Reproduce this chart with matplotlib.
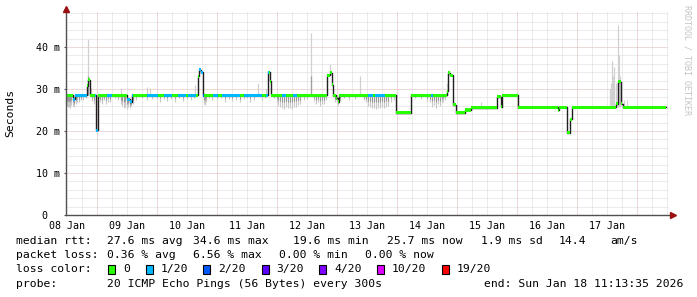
import bisect
import matplotlib
matplotlib.use('Agg')
import matplotlib.pyplot as plt
from matplotlib.patches import Rectangle

# time axis in days of January 2026
t_start = 8.49
t_end = 18.485

# median rtt (ms), step series: value holds from med_t[i] to med_t[i+1]
med_t = [8.49, 8.607, 8.64, 8.84, 8.857, 8.882, 8.982, 8.998, 9.015, 9.507,
         9.557, 9.59, 10.682, 10.707, 10.748, 10.773, 11.857, 11.89, 11.907, 12.84,
         12.882, 12.923, 12.945, 12.99, 13.015, 13.04, 13.99, 14.232, 14.832, 14.857,
         14.898, 14.94, 14.99, 15.14, 15.248, 15.673, 15.732, 15.757, 16.015, 16.682,
         16.707, 16.84, 16.898, 16.923, 17.665, 17.69, 17.74, 17.765]
med_v = [28.5, 27.6, 28.5, 30.8, 32.2, 28.5, 25.8, 20.2, 28.5, 27.6,
         27.0, 28.5, 33.0, 34.6, 34.0, 28.5, 34.0, 31.8, 28.5, 33.3,
         33.9, 31.0, 28.5, 27.8, 27.0, 28.5, 24.4, 28.5, 29.5, 33.9,
         33.3, 26.2, 24.4, 25.0, 25.5, 28.2, 25.8, 28.5, 25.6, 24.9,
         25.6, 19.6, 22.8, 25.6, 26.5, 31.7, 26.5, 25.6]

# packet loss periods (lost pings out of 20)
loss_start = [8.607, 8.973, 9.173, 9.507, 9.84, 10.123, 10.357, 10.523, 10.707, 10.773,
              10.94, 11.09, 11.457, 11.823, 12.09, 12.273, 13.523, 13.64, 14.573]
loss_end = [8.84, 9.023, 9.257, 9.607, 10.023, 10.257, 10.49, 10.657, 10.773, 10.79,
            11.023, 11.39, 11.757, 11.873, 12.157, 12.34, 13.607, 13.807, 14.607]
loss_n = [1, 1, 1, 1, 1, 1, 1, 1, 1, 2,
          1, 1, 1, 1, 1, 1, 1, 1, 1]

# smoke above the median (t, low, high)
spike_t = [8.857, 8.907, 9.407, 9.84, 9.89, 10.64, 11.69, 11.83, 12.573, 12.89,
           13.39, 14.84, 15.407, 17.557, 17.575, 17.59, 17.607, 17.623, 17.657, 17.69,
           17.705, 17.723, 17.79, 17.84]
spike_lo = [28.5, 28.5, 28.5, 28.5, 28.5, 28.5, 28.5, 28.5, 28.5, 33.5,
            28.5, 28.5, 25.5, 25.6, 25.6, 25.6, 25.6, 25.6, 25.6, 25.6,
            25.6, 25.6, 25.6, 25.6]
spike_hi = [41.8, 30.3, 30.2, 30.5, 30.2, 31.0, 31.4, 30.0, 43.3, 36.0,
            33.0, 31.4, 27.0, 30.0, 31.5, 36.7, 33.0, 35.3, 31.5, 45.2,
            38.0, 33.0, 27.5, 27.5]

# smoke below the median (t, lowest ping)
dip_t = [8.50, 8.52, 8.54, 8.557, 8.58, 8.607, 8.63, 8.657, 8.68, 8.707,
         8.74, 8.78, 8.82, 8.93, 8.95, 9.03, 9.06, 9.09, 9.12, 9.157,
         9.19, 9.223, 9.30, 9.36, 9.407, 9.43, 9.457, 9.48, 9.507, 9.53,
         9.557, 9.58, 9.607, 9.65, 9.76, 9.84, 9.93, 10.01, 10.057, 10.12,
         10.173, 10.24, 10.307, 10.37, 10.44, 10.5, 10.57, 10.62, 10.79, 10.807,
         10.83, 10.88, 10.923, 11.0, 11.07, 11.14, 11.2, 11.257, 11.32, 11.39,
         11.45, 11.5, 11.557, 11.62, 11.757, 11.8, 11.95, 12.0, 12.03, 12.057,
         12.09, 12.123, 12.15, 12.19, 12.22, 12.257, 12.29, 12.323, 12.36, 12.39,
         12.45, 12.5, 12.62, 12.657, 12.69, 12.723, 12.76, 12.79, 12.82, 12.97,
         13.023, 13.06, 13.12, 13.2, 13.3, 13.45, 13.49, 13.523, 13.55, 13.59,
         13.62, 13.657, 13.69, 13.723, 13.76, 13.79, 13.82, 13.857, 13.9, 13.95,
         14.3, 14.4, 14.5, 14.55, 14.59, 14.62, 14.657, 14.69, 14.723, 14.75,
         14.773, 14.8]
dip_lo = [26.0, 25.6, 25.8, 25.5, 26.3, 26.0, 25.8, 26.5, 27.0, 26.8,
          27.3, 27.5, 27.8, 27.2, 26.5, 27.0, 26.8, 26.5, 27.4, 26.5,
          27.0, 26.8, 27.8, 27.4, 26.5, 26.0, 25.5, 25.7, 25.3, 25.6,
          25.5, 26.0, 26.5, 27.5, 27.8, 27.5, 27.6, 27.8, 27.0, 27.6,
          27.2, 27.7, 27.0, 27.8, 27.2, 27.6, 27.5, 27.8, 26.5, 26.3,
          27.0, 27.8, 27.5, 27.6, 27.9, 27.0, 27.6, 27.2, 27.5, 26.8,
          27.6, 27.8, 27.0, 27.5, 27.5, 27.8, 27.8, 27.0, 26.2, 25.8,
          25.5, 25.3, 25.6, 25.5, 25.4, 25.2, 25.6, 25.8, 26.2, 26.5,
          27.5, 27.7, 27.2, 26.5, 26.8, 26.0, 26.5, 26.5, 27.5, 26.8,
          26.2, 27.4, 27.8, 27.5, 27.7, 27.4, 26.8, 26.0, 25.6, 25.5,
          25.4, 25.3, 25.5, 25.5, 25.6, 25.4, 25.8, 26.0, 27.0, 27.5,
          27.8, 27.6, 27.2, 26.8, 25.8, 26.2, 25.5, 26.5, 26.0, 26.8,
          27.0, 27.5]

loss_labels = ['0', '1/20', '2/20', '3/20', '4/20', '10/20', '19/20']
loss_colors = {0: '#26ff00', 1: '#00b8ff', 2: '#0059ff', 3: '#5e00ff',
               4: '#7e00ff', 10: '#dd00ff', 19: '#ff0000'}
y_ticks = [0, 10, 20, 30, 40]
y_ticklabels = ['0  ', '10 m', '20 m', '30 m', '40 m']
day_labels = ['08 Jan', '09 Jan', '10 Jan', '11 Jan', '12 Jan',
              '13 Jan', '14 Jan', '15 Jan', '16 Jan', '17 Jan']

mono = 'DejaVu Sans Mono'
W, H = 697, 297
fig = plt.figure(figsize=(W / 100, H / 100), dpi=100)
fig.patch.set_facecolor('white')
ax = fig.add_axes([66 / W, 82 / H, 602 / W, 204 / H])
ax.set_xlim(t_start, t_start + 602 / 60)
ax.set_ylim(0, 204 / 4.2)
for s in ax.spines.values():
    s.set_visible(False)

# grid
for k in range(1, 25):
    y = 2 * k
    c = '#dfb4b4' if y % 10 == 0 else '#d8d8d8'
    ax.axhline(y, color=c, lw=0.72, ls=(0, (1, 1)), zorder=0)
for k in range(1, 41):
    x = 8.5 + 0.25 * k
    c = '#dfb4b4' if k % 4 == 2 else '#d8d8d8'
    ax.axvline(x, color=c, lw=0.72, ls=(0, (1, 1)), zorder=0)

# smoke
ax.vlines(spike_t, spike_lo, spike_hi, colors='#d0d0d0', lw=0.9, zorder=1)
dip_med = [med_v[bisect.bisect_right(med_t, t) - 1] for t in dip_t]
ax.vlines(dip_t, dip_lo, dip_med, colors='#c8c8c8', lw=0.8, zorder=1)
ax.vlines(dip_t, [(a + b) / 2 for a, b in zip(dip_lo, dip_med)], dip_med,
          colors='#979797', lw=0.8, zorder=1)
ax.vlines([8.857, 12.573], 28.5, 33.0, colors='#a0a0a0', lw=0.9, zorder=1)

# median line
ax.step(med_t + [t_end], med_v + [med_v[-1]], where='post',
        color='#202020', lw=1.0, zorder=2)
edges = sorted(set(med_t + loss_start + loss_end + [t_end]))
for a, b in zip(edges[:-1], edges[1:]):
    v = med_v[bisect.bisect_right(med_t, a) - 1]
    n = 0
    for s, e, k in zip(loss_start, loss_end, loss_n):
        if s <= a < e:
            n = k
    ax.add_patch(Rectangle((a, v - 0.36), b - a, 0.72, facecolor=loss_colors[n],
                           edgecolor='none', zorder=3))

# axes with arrows
ax.plot([0, 0], [0, 1.01], transform=ax.transAxes, color='#505050', lw=1.0,
        clip_on=False, zorder=4)
ax.plot([0, 1.006], [0, 0], transform=ax.transAxes, color='#505050', lw=1.0,
        clip_on=False, zorder=4)
ax.plot([0], [1.012], transform=ax.transAxes, marker='^', ms=4, color='#9a1010',
        clip_on=False, zorder=5)
ax.plot([1.008], [0], transform=ax.transAxes, marker='>', ms=4, color='#9a1010',
        clip_on=False, zorder=5)

ax.set_yticks(y_ticks)
ax.set_yticklabels(y_ticklabels, family=mono, fontsize=7.2)
ax.set_xticks([8.5 + i for i in range(len(day_labels))])
ax.set_xticklabels(day_labels, family=mono, fontsize=7.2)
ax.tick_params(axis='y', length=1.5, width=0.8, color='#505050', pad=3)
ax.tick_params(axis='x', length=0, pad=4)
fig.text(10 / W, 1 - 113 / H, 'Seconds', rotation=90, family=mono, fontsize=8.2,
         ha='center', va='center')

fig.text(687 / W, 1 - 60 / H, 'RRDTOOL / TOBI OETIKER', rotation=270, color='#c4c4c4',
         family=mono, fontsize=6, ha='center', va='center')

# legend
def txt(x, y, s, ha='left'):
    fig.text(x / W, 1 - y / H, s, family=mono, fontsize=8.2, ha=ha, va='center')

row1 = [(16, 'median rtt:'), (107.3, '27.6 ms avg'), (192.7, '34.6 ms max'),
        (293.3, '19.6 ms min'), (387, '25.7 ms now'), (481, '1.9 ms sd'),
        (559, '14.4'), (610, 'am/s')]
row2 = [(16, 'packet loss:'), (107.3, '0.36 % avg'), (192.7, '6.56 % max'),
        (279.3, '0.00 % min'), (365, '0.00 % now')]
for x, s in row1:
    txt(x, 241.3, s)
for x, s in row2:
    txt(x, 255.3, s)
txt(16, 268.7, 'loss color:')
box_x = [108.3, 145.7, 203.3, 261.7, 319.3, 376.7, 441.7]
for bx, lab, n in zip(box_x, loss_labels, [0, 1, 2, 3, 4, 10, 19]):
    fig.patches.append(Rectangle((bx / W, 1 - 273.5 / H), 7 / W, 9 / H,
                                 transform=fig.transFigure, facecolor=loss_colors[n],
                                 edgecolor='black', lw=0.8))
    txt(bx + 15, 268.7, lab)
txt(16, 283.7, 'probe:')
txt(107.3, 283.7, '20 ICMP Echo Pings (56 Bytes) every 300s')
txt(683, 283.7, 'end: Sun Jan 18 11:13:35 2026', ha='right')

fig.savefig('out.png', dpi=100, facecolor='white')
